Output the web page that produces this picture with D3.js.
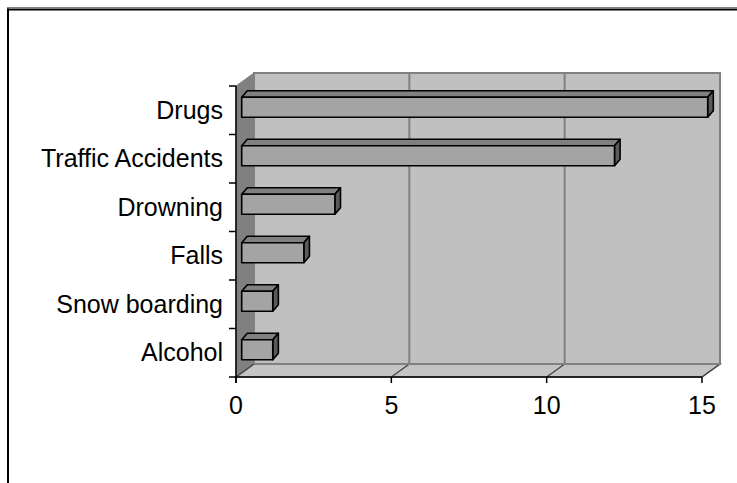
<!DOCTYPE html>
<html><head><meta charset="utf-8">
<script src="https://cdn.jsdelivr.net/npm/d3@7"></script>
<style>html,body{margin:0;padding:0;background:#fff;}svg{display:block;}</style>
</head><body>
<svg id="c" width="737" height="483"></svg>
<script>
const categories = ["Drugs","Traffic Accidents","Drowning","Falls","Snow boarding","Alcohol"];
const values = [15,12,3,2,1,1];
const xTicks = [0,5,10,15];

(function(){
const svg = d3.select("#c");
const W = 737, H = 483;
// frame
svg.append("line").attr("x1",7).attr("x2",W).attr("y1",7.5).attr("y2",7.5).attr("stroke","#808080").attr("stroke-width",1);
svg.append("line").attr("x1",7).attr("x2",W).attr("y1",9.5).attr("y2",9.5).attr("stroke","#000").attr("stroke-width",2);
svg.append("line").attr("x1",8).attr("x2",8).attr("y1",8.5).attr("y2",H).attr("stroke","#000").attr("stroke-width",2);

const x = d3.scaleLinear().domain([0,15]).range([236,702]);
const y = d3.scaleBand().domain(categories).range([86,377]);
const DX = 18, DY = -13;
const yTop = y.range()[0], yBot = y.range()[1];
const x0 = x(0), x1 = x(15);
const pts = a => a.map(p=>p.join(",")).join(" ");

// back wall
svg.append("polygon").attr("points",pts([[x0+DX,yTop+DY],[x1+DX,yTop+DY],[x1+DX,yBot+DY],[x0+DX,yBot+DY]]))
  .attr("fill","#c0c0c0").attr("stroke","#808080").attr("stroke-width",2);
// floor
svg.append("polygon").attr("points",pts([[x0,yBot],[x1,yBot],[x1+DX,yBot+DY],[x0+DX,yBot+DY]]))
  .attr("fill","#c4c4c4").attr("stroke","#808080").attr("stroke-width",1.5);
// left wall
svg.append("polygon").attr("points",pts([[x0,yTop],[x0+DX,yTop+DY],[x0+DX,yBot+DY],[x0,yBot]]))
  .attr("fill","#808080").attr("stroke","#808080").attr("stroke-width",1);
// gridlines
xTicks.filter(t=>t>0 && t<15).forEach(t=>{
  svg.append("line").attr("x1",x(t)+DX).attr("x2",x(t)+DX).attr("y1",yTop+DY).attr("y2",yBot+DY)
    .attr("stroke","#808080").attr("stroke-width",2);
});
xTicks.forEach(t=>{
  svg.append("line").attr("x1",x(t)).attr("x2",x(t)+DX).attr("y1",yBot).attr("y2",yBot+DY)
    .attr("stroke","#404040").attr("stroke-width",1.2);
});
svg.append("line").attr("x1",x0+DX).attr("x2",x1+DX).attr("y1",yBot+DY).attr("y2",yBot+DY).attr("stroke","#808080").attr("stroke-width",2);

// bars
const BX = 5.7, BY = -3, BDX = 5.6, BDY = -6.5, BH = 20;
categories.forEach((c,i)=>{
  const v = values[i];
  const cy = y(c) + y.bandwidth()/2 + BY;
  const xl = x(0)+BX, xr = x(v)+BX;
  const yt = cy - BH/2, yb = cy + BH/2;
  const g = svg.append("g").attr("stroke","#000").attr("stroke-width",1.6).attr("stroke-linejoin","round");
  g.append("polygon").attr("points",pts([[xl,yt],[xl+BDX,yt+BDY],[xr+BDX,yt+BDY],[xr,yt]])).attr("fill","#808080");
  g.append("polygon").attr("points",pts([[xr,yt],[xr+BDX,yt+BDY],[xr+BDX,yb+BDY],[xr,yb]])).attr("fill","#5a5a5a");
  g.append("rect").attr("x",xl).attr("y",yt).attr("width",xr-xl).attr("height",BH).attr("fill","#a4a4a4");
});

// axes
const font = "'Liberation Sans', Arial, sans-serif";
svg.append("line").attr("x1",x0).attr("x2",x1).attr("y1",yBot).attr("y2",yBot).attr("stroke","#000").attr("stroke-width",1.5);
svg.append("line").attr("x1",x0).attr("x2",x0).attr("y1",yTop).attr("y2",yBot+6).attr("stroke","#000").attr("stroke-width",1.5);
xTicks.forEach(t=>{
  svg.append("line").attr("x1",x(t)).attr("x2",x(t)).attr("y1",yBot).attr("y2",yBot+6).attr("stroke","#000").attr("stroke-width",1.5);
  svg.append("text").attr("x",x(t)).attr("y",yBot+37).attr("text-anchor","middle")
    .attr("font-family",font).attr("font-size",25).attr("fill","#000").text(t);
});
const yTickPos = categories.map(c=>y(c)).concat([yBot]);
yTickPos.forEach(p=>{
  svg.append("line").attr("x1",x0-7).attr("x2",x0).attr("y1",p).attr("y2",p).attr("stroke","#000").attr("stroke-width",1.5);
});
categories.forEach(c=>{
  svg.append("text").attr("x",223).attr("y",y(c)+y.bandwidth()/2+8.5).attr("text-anchor","end")
    .attr("font-family",font).attr("font-size",25).attr("fill","#000").text(c);
});
})();
</script>
</body></html>
